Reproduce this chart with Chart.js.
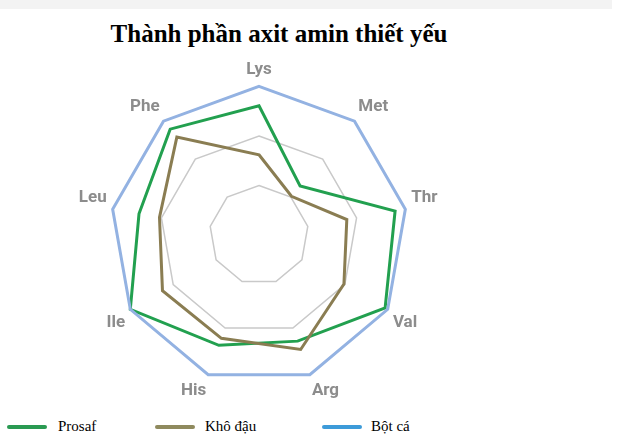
<!DOCTYPE html>
<html lang="vi">
<head>
<meta charset="utf-8">
<title>Thành phần axit amin thiết yếu</title>
<script src="https://cdn.jsdelivr.net/npm/chart.js@4.4.0/dist/chart.umd.min.js"></script>
<style>
  body { margin: 0; width: 640px; height: 446px; background: #fff; position: relative; overflow: hidden; }
  .topband { position: absolute; left: 0; top: 0; width: 612px; height: 9px; background: #f3f3f3; }
  #title { position: absolute; left: 0; width: 558px; top: 20px; text-align: center;
    font: bold 25px "Liberation Serif", serif; color: #000; }
  #wrap { position: absolute; left: 58px; top: 55px; width: 402px; height: 351px; }
  .leg { position: absolute; top: 418px; font: 15px "Liberation Serif", serif; color: #000; }
  .leg span.sw { position: absolute; top: 7px; width: 40px; height: 4px; border-radius: 2px; }
  .leg span.tx { position: absolute; white-space: nowrap; }
</style>
</head>
<body>
<div class="topband"></div>
<div id="title">Thành phần axit amin thiết yếu</div>
<div id="wrap"><canvas id="radar"></canvas></div>
<div id="legend"></div>
<script>
// Dữ liệu (% so với bột cá)
const nhan = ["Lys", "Met", "Thr", "Val", "Arg", "His", "Ile", "Leu", "Phe"];
const prosaf = [87, 43, 93, 98, 76, 79, 100, 82, 93];
const khoDau = [54, 34, 60, 66, 82, 74, 75, 68, 86];
const botCa = [100, 100, 100, 100, 100, 100, 100, 100, 100];

const tenSeries = ["Prosaf", "Khô đậu", "Bột cá"];
const mauLine = ["#22a04f", "#8a7d52", "#93b2e2"];
const mauLegend = ["#2a9a52", "#8f8a5e", "#3d9bd9"];

function taoLegend() {
  const legend = document.getElementById("legend");
  const viTri = [[7, 58], [155, 205], [322, 371]];
  tenSeries.forEach((ten, i) => {
    const div = document.createElement("div");
    div.className = "leg";
    div.innerHTML = `<span class="sw" style="left:${viTri[i][0]}px;background:${mauLegend[i]}"></span>
      <span class="tx" style="left:${viTri[i][1]}px">${ten}</span>`;
    legend.appendChild(div);
  });
}

function veBieuDo() {
  const duLieu = [prosaf, khoDau, botCa];
  new Chart(document.getElementById("radar").getContext("2d"), {
    type: "radar",
    data: {
      labels: nhan,
      datasets: duLieu.map((d, i) => ({
        label: tenSeries[i],
        data: d,
        borderColor: mauLine[i],
        backgroundColor: "transparent",
        borderWidth: 3,
        pointRadius: 0,
        fill: false,
        order: 2 - i,
      })),
    },
    options: {
      responsive: true,
      maintainAspectRatio: false,
      animation: false,
      layout: { padding: 0 },
      plugins: { legend: { display: false }, title: { display: false }, tooltip: { enabled: false } },
      scales: {
        r: {
          min: 0,
          max: 100,
          ticks: { display: false, count: 4 },
          grid: { color: "#c9c9c9", lineWidth: 1.5 },
          angleLines: { display: false },
          pointLabels: {
            color: "#8c8c8c",
            padding: 6,
            font: { family: "Roboto", weight: "bold", size: 17 },
          },
        },
      },
    },
  });
}

taoLegend();
veBieuDo();
</script>
</body>
</html>
